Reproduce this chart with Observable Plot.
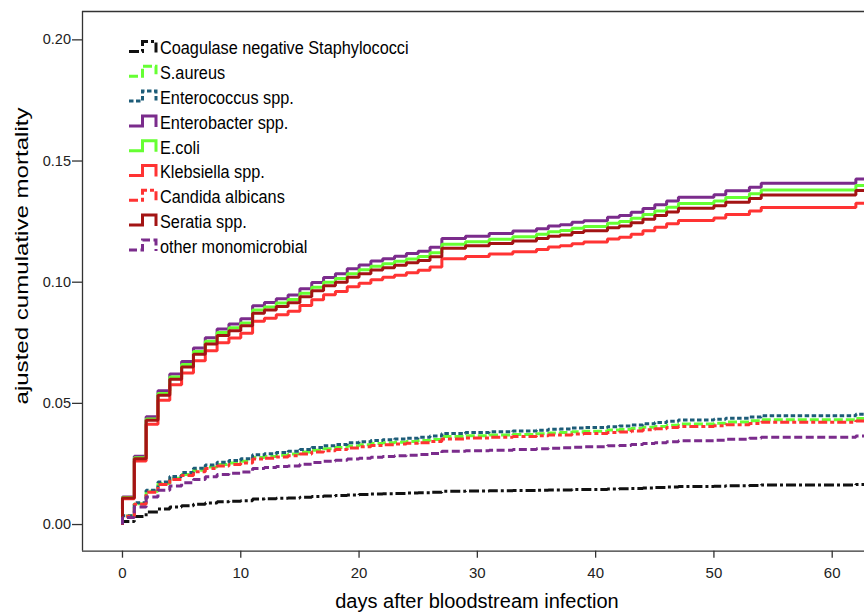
<!DOCTYPE html>
<html>
<head>
<meta charset="utf-8">
<script src="https://cdn.jsdelivr.net/npm/d3@7"></script>
<script src="https://cdn.jsdelivr.net/npm/@observablehq/plot@0.6"></script>
<style>
  html, body { margin: 0; padding: 0; background: #fff; }
  #chart { width: 864px; height: 612px; overflow: hidden; }
</style>
</head>
<body>
<div id="chart"></div>
<script>
// ---- data ----
const seriesNames = [
  "Coagulase negative Staphylococci", "S.aureus", "Enterococcus spp.",
  "Enterobacter spp.", "E.coli", "Klebsiella spp.", "Candida albicans",
  "Seratia spp.", "other monomicrobial"
];
const seriesColors = ["#111111", "#66ff33", "#1d5c78", "#7b2c8c", "#66ff33", "#ff3333", "#ff3333", "#a31414", "#7b2c8c"];
const seriesDash = ["10,3,3,3", "9,3", "4.5,2.5", null, null, null, "9,3,4,3", null, "8,3.5"];

const days = [0,1,2,3,4,5,6,7,8,9,10,11,12,13,14,15,16,17,18,19,20,21,22,23,24,25,26,27,
  29,31,33,35,36,37,38,39,41,42,43,44,45,46,47,50,51,53,54,62];

const cons = [0.0013,0.0033,0.0052,0.0064,0.0072,0.0078,0.0084,0.0089,0.0094,0.0096,0.0098,0.0105,0.0106,0.0108,0.0110,0.0113,0.0116,0.0118,0.0120,0.0122,0.0124,0.0126,0.0127,0.0128,0.0130,0.0131,0.0133,0.0137,
  0.0138,0.0139,0.0140,0.0142,0.0143,0.0143,0.0145,0.0145,0.0147,0.0148,0.0149,0.0151,0.0153,0.0155,0.0157,0.0158,0.0160,0.0161,0.0163,0.0165];
const saureus = [0.0035,0.0086,0.0137,0.0169,0.0191,0.0207,0.0224,0.0237,0.0248,0.0254,0.0261,0.0277,0.0281,0.0286,0.0291,0.0299,0.0307,0.0313,0.0318,0.0324,0.0329,0.0334,0.0337,0.0340,0.0343,0.0347,0.0351,0.0363,
  0.0366,0.0369,0.0372,0.0375,0.0378,0.0380,0.0383,0.0385,0.0390,0.0392,0.0396,0.0401,0.0405,0.0410,0.0415,0.0418,0.0423,0.0428,0.0432,0.0438];
const enterococcus = [0.0036,0.0090,0.0142,0.0176,0.0198,0.0215,0.0232,0.0246,0.0257,0.0264,0.0271,0.0288,0.0292,0.0297,0.0302,0.0310,0.0318,0.0325,0.0330,0.0337,0.0342,0.0347,0.0350,0.0353,0.0356,0.0360,0.0365,0.0376,
  0.0380,0.0383,0.0386,0.0389,0.0393,0.0394,0.0398,0.0400,0.0404,0.0407,0.0411,0.0416,0.0421,0.0426,0.0431,0.0434,0.0439,0.0444,0.0449,0.0455];
const enterobacter = [0.0114,0.0282,0.0445,0.0552,0.0621,0.0673,0.0728,0.0771,0.0807,0.0828,0.0849,0.0903,0.0916,0.0932,0.0947,0.0973,0.0999,0.1019,0.1035,0.1056,0.1071,0.1087,0.1097,0.1107,0.1118,0.1128,0.1144,0.1180,
  0.1190,0.1201,0.1211,0.1221,0.1232,0.1237,0.1247,0.1254,0.1268,0.1275,0.1289,0.1304,0.1320,0.1335,0.1351,0.1361,0.1377,0.1392,0.1408,0.1426];
const ecoli = [0.0112,0.0276,0.0436,0.0541,0.0609,0.0660,0.0714,0.0756,0.0792,0.0812,0.0832,0.0885,0.0898,0.0914,0.0929,0.0954,0.0979,0.1000,0.1015,0.1035,0.1051,0.1066,0.1076,0.1086,0.1096,0.1106,0.1122,0.1157,
  0.1167,0.1177,0.1188,0.1198,0.1208,0.1213,0.1223,0.1230,0.1243,0.1250,0.1264,0.1279,0.1294,0.1309,0.1325,0.1335,0.1350,0.1365,0.1380,0.1399];
const klebsiella = [0.0106,0.0262,0.0414,0.0513,0.0577,0.0625,0.0676,0.0717,0.0750,0.0770,0.0789,0.0839,0.0851,0.0866,0.0880,0.0904,0.0928,0.0948,0.0962,0.0981,0.0996,0.1010,0.1020,0.1029,0.1039,0.1049,0.1063,0.1097,
  0.1106,0.1116,0.1126,0.1135,0.1145,0.1150,0.1159,0.1166,0.1178,0.1185,0.1198,0.1212,0.1227,0.1241,0.1255,0.1265,0.1279,0.1294,0.1308,0.1326];
const candida = [0.0034,0.0084,0.0133,0.0165,0.0186,0.0202,0.0218,0.0231,0.0242,0.0248,0.0254,0.0270,0.0274,0.0279,0.0284,0.0291,0.0299,0.0305,0.0310,0.0316,0.0321,0.0326,0.0329,0.0332,0.0335,0.0338,0.0343,0.0353,
  0.0357,0.0360,0.0363,0.0366,0.0369,0.0370,0.0374,0.0376,0.0380,0.0382,0.0386,0.0391,0.0395,0.0400,0.0405,0.0408,0.0412,0.0417,0.0422,0.0427];
const seratia = [0.0110,0.0272,0.0430,0.0533,0.0600,0.0650,0.0703,0.0745,0.0780,0.0800,0.0820,0.0872,0.0885,0.0900,0.0915,0.0940,0.0965,0.0985,0.1000,0.1020,0.1035,0.1050,0.1060,0.1070,0.1080,0.1090,0.1105,0.1140,
  0.1150,0.1160,0.1170,0.1180,0.1190,0.1195,0.1205,0.1212,0.1225,0.1232,0.1245,0.1260,0.1275,0.1290,0.1305,0.1315,0.1330,0.1345,0.1360,0.1378];
const other = [0.0029,0.0072,0.0114,0.0141,0.0159,0.0172,0.0186,0.0197,0.0207,0.0212,0.0217,0.0231,0.0235,0.0239,0.0242,0.0249,0.0256,0.0261,0.0265,0.0270,0.0274,0.0278,0.0281,0.0284,0.0286,0.0289,0.0293,0.0302,
  0.0305,0.0307,0.0310,0.0313,0.0315,0.0317,0.0319,0.0321,0.0325,0.0326,0.0330,0.0334,0.0338,0.0342,0.0346,0.0348,0.0352,0.0356,0.0360,0.0365];

const seriesValues = [cons, saureus, enterococcus, enterobacter, ecoli, klebsiella, candida, seratia, other];

const xTicks = [0, 10, 20, 30, 40, 50, 60];
const yTicks = [0, 0.05, 0.10, 0.15, 0.20];
const xDomain = [-3.38, 62.73];
const yDomain = [-0.0110, 0.2117];
const xTitle = "days after bloodstream infection";
const yTitle = "ajusted cumulative mortality";

// ---- build step data ----
const curves = seriesNames.map((name, k) => {
  const vals = seriesValues[k];
  const rows = [{day: 0, value: 0}];
  days.forEach((d, i) => rows.push({day: d, value: vals[i]}));
  rows.push({day: xDomain[1] + 1, value: vals[vals.length - 1]});
  return rows;
});

const font = "'Liberation Sans', Arial, Helvetica, sans-serif";
const frameColor = "#333";

const marks = [
  Plot.ruleX([xDomain[0]], {stroke: frameColor, strokeWidth: 1.3}),
  Plot.ruleY([yDomain[0]], {stroke: frameColor, strokeWidth: 1.3}),
  Plot.ruleY([yDomain[1]], {stroke: frameColor, strokeWidth: 1.3}),
  Plot.axisY({ticks: yTicks, tickFormat: d3.format(".2f"), tickSize: 10, tickPadding: 1.5, fontSize: 14.5, label: null, stroke: frameColor, strokeWidth: 1.3}),
  Plot.axisX({ticks: xTicks, tickFormat: d3.format("d"), tickSize: 7, tickPadding: 9, fontSize: 15, label: null, stroke: frameColor, strokeWidth: 1.3}),
];
curves.forEach((rows, k) => {
  marks.push(Plot.line(rows, {
    x: "day", y: "value", curve: "step-after",
    stroke: seriesColors[k], strokeWidth: 3,
    strokeDasharray: seriesDash[k] || undefined,
    strokeLinejoin: "miter", strokeLinecap: "butt",
    clip: true
  }));
});

const plot = Plot.plot({
  width: 864,
  height: 612,
  marginLeft: 82,
  marginRight: 0,
  marginTop: 11,
  marginBottom: 61.3,
  x: {domain: xDomain},
  y: {domain: yDomain},
  style: {fontFamily: font, color: "#222", background: "#fff", overflow: "hidden"},
  marks
});

document.getElementById("chart").appendChild(plot);

// ---- titles and legend ----
const svg = d3.select(plot);
svg.append("text")
  .attr("x", 477).attr("y", 601).attr("dy", "0.35em")
  .attr("text-anchor", "middle")
  .attr("font-family", font).attr("font-size", 20).attr("fill", "#000")
  .text(xTitle);
svg.append("text")
  .attr("transform", "translate(21,256) rotate(-90)")
  .attr("dy", "0.35em")
  .attr("text-anchor", "middle")
  .attr("font-family", font).attr("font-size", 19).attr("fill", "#000")
  .attr("textLength", 297).attr("lengthAdjust", "spacingAndGlyphs")
  .text(yTitle);

const lg = svg.append("g").attr("transform", "translate(129,36)");
seriesNames.forEach((name, i) => {
  const g = lg.append("g").attr("transform", `translate(0,${i * 24.8})`);
  g.append("path")
    .attr("d", "M0,15.5 H13.5 V5.5 H27 V16.5")
    .attr("fill", "none")
    .attr("stroke", seriesColors[i])
    .attr("stroke-width", 3)
    .attr("stroke-dasharray", seriesDash[i] || null);
  g.append("text")
    .attr("transform", "translate(31,12) scale(0.88,1)")
    .attr("dy", "0.35em")
    .attr("text-anchor", "start")
    .attr("font-family", font).attr("font-size", 18.5).attr("fill", "#000")
    .text(name);
});
</script>
</body>
</html>
